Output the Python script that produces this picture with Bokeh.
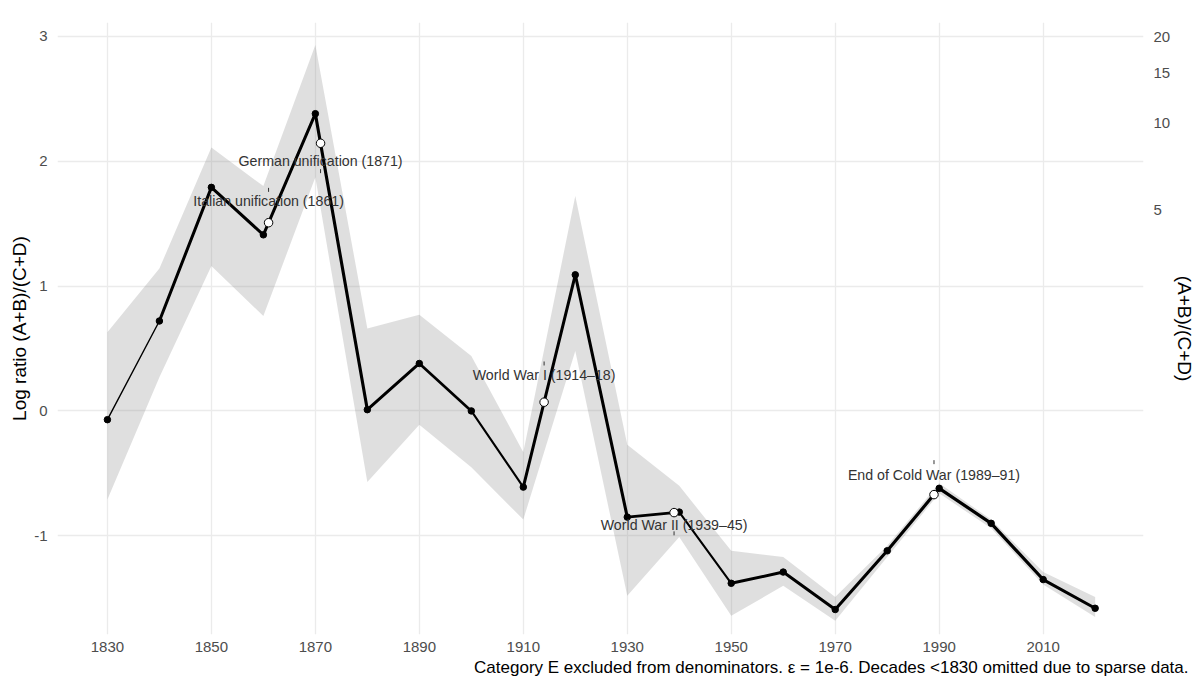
import numpy as np
from bokeh.plotting import figure
from bokeh.models import (Range1d, LinearAxis, FixedTicker, CustomJSTickFormatter,
                          Title, ColumnDataSource)
from bokeh.embed import file_html
from bokeh.resources import INLINE
from bokeh.core.properties import value

# ---------------- data ----------------
decades = [1830, 1840, 1850, 1860, 1870, 1880, 1890, 1900, 1910, 1920,
           1930, 1940, 1950, 1960, 1970, 1980, 1990, 2000, 2010, 2020]
log_ratio = [-0.07, 0.72, 1.79, 1.41, 2.38, 0.01, 0.38, 0.00, -0.61, 1.09,
             -0.85, -0.81, -1.38, -1.29, -1.59, -1.12, -0.62, -0.90, -1.35, -1.58]
ci_lower = [-0.71, 0.27, 1.16, 0.76, 1.87, -0.57, -0.11, -0.45, -0.87, 0.48,
            -1.48, -1.01, -1.64, -1.40, -1.68, -1.17, -0.66, -0.94, -1.39, -1.65]
ci_upper = [0.63, 1.14, 2.11, 1.80, 2.93, 0.66, 0.77, 0.44, -0.33, 1.72,
            -0.27, -0.60, -1.12, -1.17, -1.49, -1.08, -0.58, -0.87, -1.29, -1.49]
n_records = [8, 60, 62, 60, 64, 58, 50, 30, 60, 62,
             58, 30, 58, 60, 62, 64, 66, 64, 62, 60]

event_years = [1861, 1871, 1914, 1939, 1989]
event_labels = ["Italian unification (1861)", "German unification (1871)",
                "World War I (1914\u201318)", "World War II (1939\u201345)",
                "End of Cold War (1989\u201391)"]
event_label_y = [1.68, 2.00, 0.29, -0.91, -0.51]
event_tick_y = [1.77, 1.92, 0.38, -0.98, -0.41]

x_ticks = [1830, 1850, 1870, 1890, 1910, 1930, 1950, 1970, 1990, 2010]
y_ticks = [-1, 0, 1, 2, 3]
right_ticks = [5, 10, 15, 20]

caption = ("Category E excluded from denominators. \u03b5 = 1e-6. "
           "Decades <1830 omitted due to sparse data.")

FONT = "Liberation Sans"

# ---------------- figure ----------------
p = figure(width=1201, height=686,
           x_range=Range1d(1820.4, 2029.3), y_range=Range1d(-1.79, 3.11),
           output_backend="svg", toolbar_location=None,
           min_border_left=57, min_border_right=58,
           min_border_top=22, min_border_bottom=52)
p.outline_line_color = None
p.background_fill_color = "white"
p.border_fill_color = "white"

p.xaxis.ticker = FixedTicker(ticks=x_ticks)
p.yaxis.ticker = FixedTicker(ticks=y_ticks)
p.xgrid.ticker = FixedTicker(ticks=x_ticks)
p.ygrid.ticker = FixedTicker(ticks=y_ticks)
for g in (p.xgrid, p.ygrid):
    g.grid_line_color = "#ebebeb"
    g.grid_line_width = 1.3
    g.minor_grid_line_color = None

p.yaxis.axis_label = "Log ratio (A+B)/(C+D)"
p.yaxis.formatter = CustomJSTickFormatter(code="return tick.toString();")

r_axis = LinearAxis(ticker=FixedTicker(ticks=[float(np.log(v)) for v in right_ticks]),
                    formatter=CustomJSTickFormatter(code="return Math.round(Math.exp(tick)).toString();"),
                    axis_label="(A+B)/(C+D)")
p.add_layout(r_axis, "right")

for ax in list(p.xaxis) + list(p.yaxis) + [r_axis]:
    ax.axis_line_color = None
    ax.major_tick_line_color = None
    ax.minor_tick_line_color = None
    ax.major_tick_out = 0
    ax.major_tick_in = 0
    ax.minor_tick_out = 0
    ax.minor_tick_in = 0
    ax.major_label_text_font = FONT
    ax.major_label_text_font_size = "15px"
    ax.major_label_text_color = "#4d4d4d"
    ax.major_label_standoff = 10
    ax.axis_label_text_font = FONT
    ax.axis_label_text_font_size = "19px"
    ax.axis_label_text_font_style = "normal"
    ax.axis_label_text_color = "black"
    ax.axis_label_standoff = 3

p.yaxis.axis_label_standoff = 1
p.xaxis.major_label_standoff = 7

# ribbon
p.varea(x=decades, y1=ci_lower, y2=ci_upper, fill_color="#808080", fill_alpha=0.25)

# line with width mapped to n_records
n = np.array(n_records, dtype=float)
w = 1.4 + 1.8 * (n - n.min()) / (n.max() - n.min())
seg = ColumnDataSource(dict(x0=decades[:-1], y0=log_ratio[:-1],
                            x1=decades[1:], y1=log_ratio[1:], w=w[:-1]))
p.segment(x0="x0", y0="y0", x1="x1", y1="y1", line_width="w",
          line_color="black", line_cap="round", source=seg)

# points
p.scatter(x=decades, y=log_ratio, size=6.5, fill_color="black", line_color="black")

# event markers
ev_y = np.interp(event_years, decades, log_ratio)
p.scatter(x=event_years, y=ev_y, size=8.5, fill_color="white", line_color="black",
          line_width=1)

# event labels
p.text(x=event_years, y=event_label_y, text=event_labels, text_align="center",
       text_baseline="middle", text_font=value(FONT), text_font_size="14.2px",
       text_color="#333333")
p.scatter(x=event_years, y=event_tick_y, marker="dash", angle=np.pi / 2, size=4,
          line_color="#333333", line_width=1)

# caption
cap = Title(text=caption, align="right", text_font=FONT, text_font_size="17px",
            text_font_style="normal", text_color="black", offset=-45, standoff=2)
p.add_layout(cap, "below")

open("out.html", "w").write(file_html(p, INLINE))
